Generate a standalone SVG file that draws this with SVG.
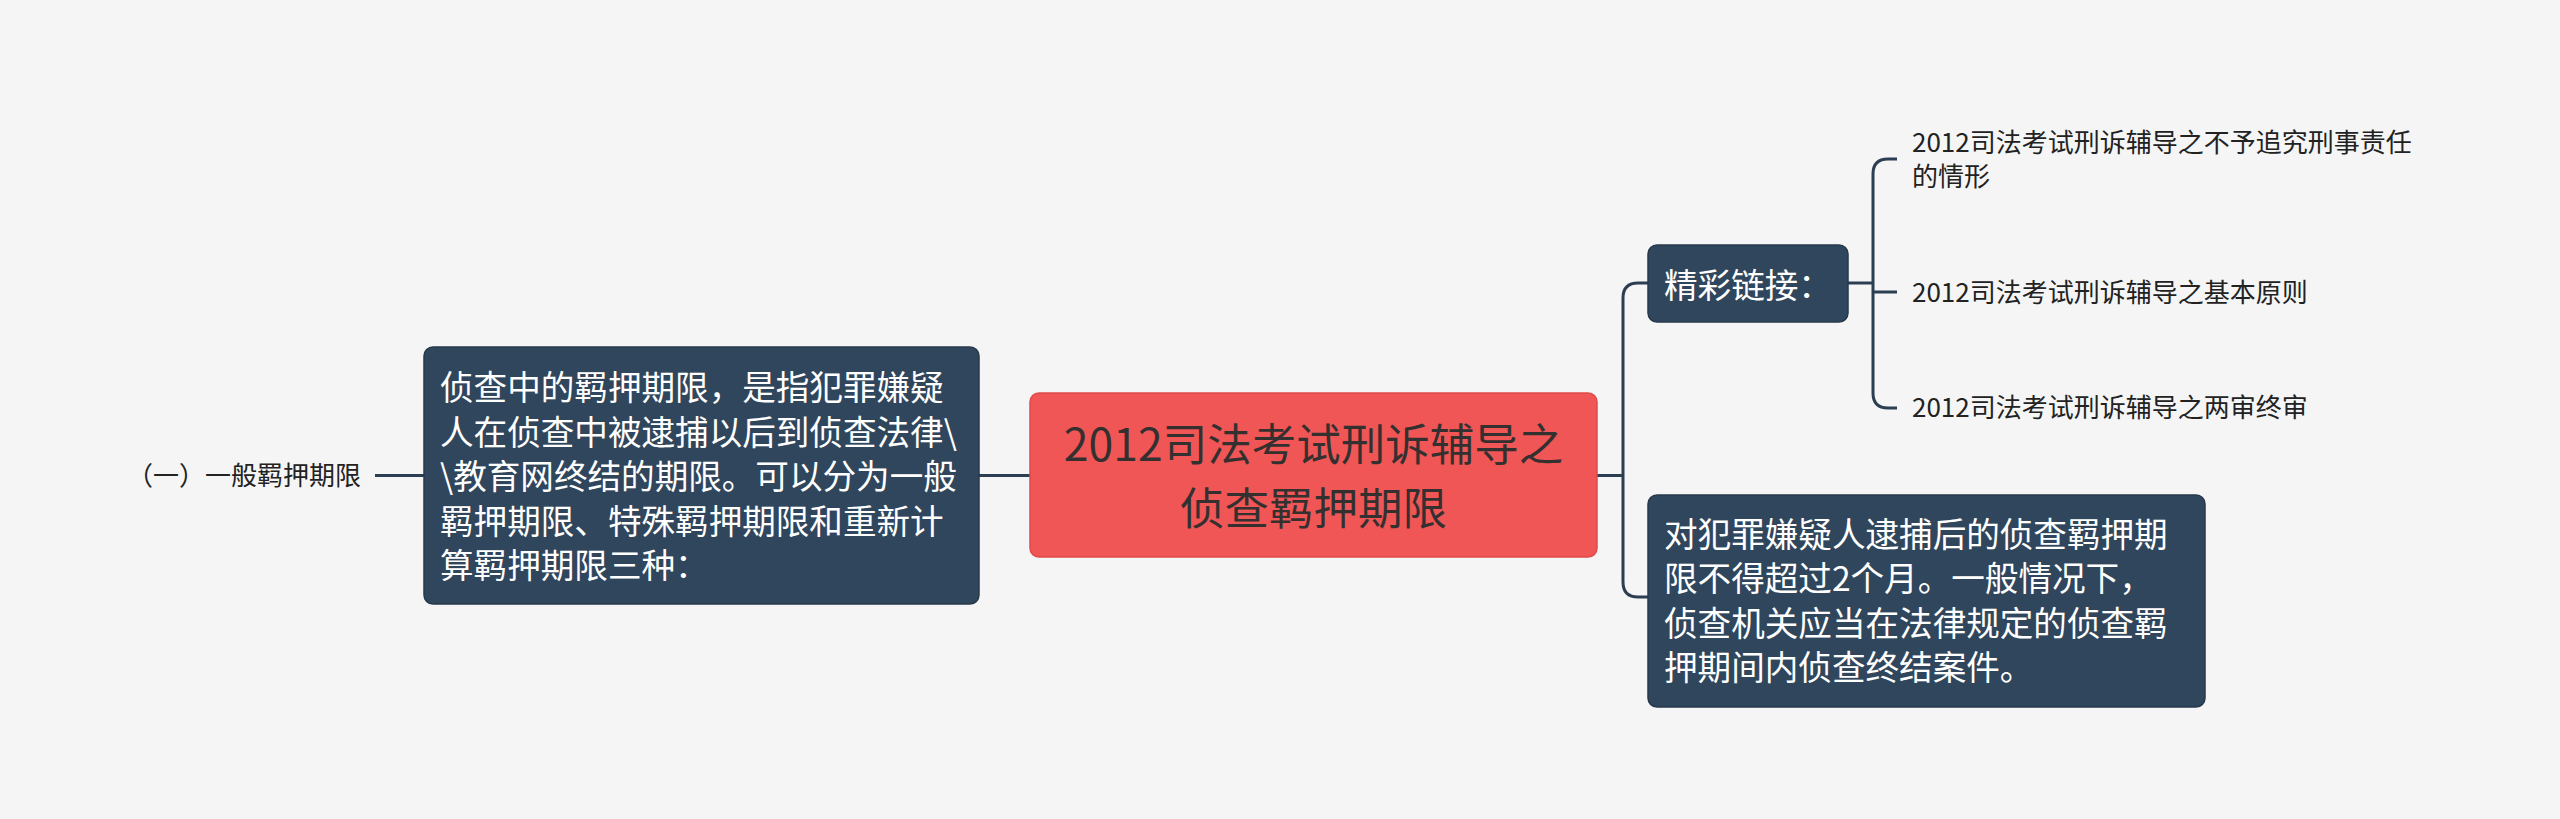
<svg xmlns="http://www.w3.org/2000/svg" width="2560" height="819" viewBox="0 0 2560 819">
<style>
  .bg { fill: #f5f5f5; }
  .dark { fill: #30465c; stroke: #27394b; stroke-width: 1.5; }
  .red { fill: #f05656; stroke: #e04a4a; stroke-width: 1.5; }
  .wt { font-family: "Noto Sans CJK SC", "Noto Sans", sans-serif; font-size: 33.6px; fill: #ffffff; }
  .ct { font-family: "Noto Sans CJK SC", "Noto Sans", sans-serif; font-size: 44.5px; fill: #353030; text-anchor: middle; }
  .st { font-family: "Noto Sans CJK SC", "Noto Sans", sans-serif; font-size: 26px; fill: #222222; }
  .conn path { fill: none; stroke: #2c3e52; stroke-width: 3; }
</style>
<rect class="bg" x="0" y="0" width="2560" height="819"/>

<g class="conn" id="connectors">
  <path d="M375 475.5 H424"/>
  <path d="M979 475.5 H1030"/>
  <path d="M1597 475.5 H1623"/>
  <path d="M1648 283 H1638 Q1623 283 1623 298 V582 Q1623 597 1638 597 H1648"/>
  <path d="M1848 283 H1873"/>
  <path d="M1897 159 H1888 Q1873 159 1873 174 V393 Q1873 408 1888 408 H1897"/>
  <path d="M1873 292 H1897"/>
</g>

<g id="center">
  <rect class="red" x="1030" y="393" width="567" height="164" rx="9"/>
  <text class="ct" x="1313.5" y="461">2012司法考试刑诉辅导之</text>
  <text class="ct" x="1313.5" y="525">侦查羁押期限</text>
</g>

<g id="left-box">
  <rect class="dark" x="424" y="347" width="555" height="257" rx="9"/>
  <text class="wt" x="440" y="400">侦查中的羁押期限，是指犯罪嫌疑</text>
  <text class="wt" x="440" y="444.5">人在侦查中被逮捕以后到侦查法律\</text>
  <text class="wt" x="440" y="489">\教育网终结的期限。可以分为一般</text>
  <text class="wt" x="440" y="533.5">羁押期限、特殊羁押期限和重新计</text>
  <text class="wt" x="440" y="578">算羁押期限三种：</text>
</g>

<g id="left-label">
  <text class="st" x="361" y="485" text-anchor="end">（一）一般羁押期限</text>
</g>

<g id="links">
  <rect class="dark" x="1648" y="245" width="200" height="77" rx="9"/>
  <text class="wt" x="1664" y="298">精彩链接：</text>
</g>

<g id="link-1">
  <text class="st" x="1912" y="152">2012司法考试刑诉辅导之不予追究刑事责任</text>
  <text class="st" x="1912" y="186">的情形</text>
</g>

<g id="link-2">
  <text class="st" x="1912" y="302">2012司法考试刑诉辅导之基本原则</text>
</g>

<g id="link-3">
  <text class="st" x="1912" y="417">2012司法考试刑诉辅导之两审终审</text>
</g>

<g id="right-box">
  <rect class="dark" x="1648" y="495" width="557" height="212" rx="9"/>
  <text class="wt" x="1664" y="547">对犯罪嫌疑人逮捕后的侦查羁押期</text>
  <text class="wt" x="1664" y="591">限不得超过2个月。一般情况下，</text>
  <text class="wt" x="1664" y="636">侦查机关应当在法律规定的侦查羁</text>
  <text class="wt" x="1664" y="680">押期间内侦查终结案件。</text>
</g>
</svg>
